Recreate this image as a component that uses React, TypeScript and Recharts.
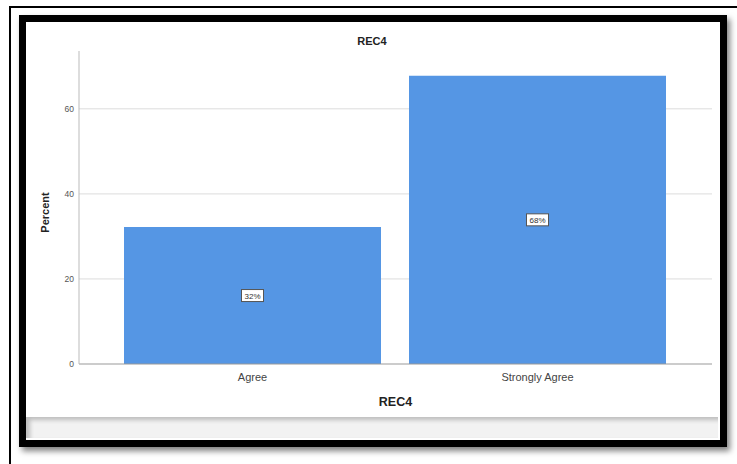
import React from "react";
import { BarChart, Bar, XAxis, YAxis, CartesianGrid, LabelList, Label } from "recharts";

const categories = ["Agree", "Strongly Agree"];
const percentValues = [32.2, 67.8];
const valueLabels = ["32%", "68%"];
const yTicks = [0, 20, 40, 60];
const chartTitle = "REC4";
const xTitle = "REC4";
const yTitle = "Percent";

const data = categories.map((c, i) => ({ name: c, value: percentValues[i], label: valueLabels[i] }));

const FONT = "'Liberation Sans', Arial, sans-serif";

const BoxLabel = (props: any) => {
  const { x, y, width, height, index } = props;
  const cx = x + width / 2;
  const cy = y + height / 2;
  const w = 22;
  const h = 12;
  return (
    <g>
      <rect x={cx - w / 2} y={cy - h / 2} width={w} height={h} fill="#ffffff" stroke="#555" strokeWidth={1} />
      <text x={cx} y={cy + 3} textAnchor="middle" fontSize={8} fill="#333" fontFamily={FONT}>
        {valueLabels[index]}
      </text>
    </g>
  );
};

export default function App() {
  return (
    <div style={{ position: "absolute", left: 0, top: 0, width: 737, height: 464, overflow: "hidden", background: "#fff", fontFamily: FONT }}>
      {/* thin outer border */}
      <div style={{ position: "absolute", left: 9, top: 6, width: 760, height: 480, borderTop: "2px solid #000", borderLeft: "2px solid #000" }} />
      {/* thick frame */}
      <div style={{ position: "absolute", left: 19, top: 15, width: 694, height: 418, border: "7px solid #000", boxShadow: "3px 4px 6px rgba(0,0,0,0.5)", background: "#fff" }} />
      {/* grey strip */}
      <div style={{ position: "absolute", left: 26, top: 417, width: 692, height: 21, background: "#f2f2f2", boxShadow: "inset 4px 3px 4px rgba(0,0,0,0.22)" }} />
      <div style={{ position: "absolute", left: 0, top: 0 }}>
        <BarChart width={737} height={464} data={data} margin={{ top: 51, right: 25, bottom: 0, left: 0 }} barCategoryGap={14}>
          <text x={372} y={45} textAnchor="middle" fontSize={11} fontWeight="bold" fill="#222" fontFamily={FONT}>{chartTitle}</text>
          <CartesianGrid vertical={false} stroke="#dcdcdc" horizontalValues={[20, 40, 60]} />
          <XAxis
            dataKey="name"
            padding={{ left: 31, right: 32 }}
            tickLine={false}
            tickSize={0}
            tickMargin={9}
            axisLine={{ stroke: "#999" }}
            tick={{ fontSize: 11, fill: "#444", fontFamily: FONT }}
            height={100}
          >
            <Label value={xTitle} position="insideTop" offset={33} style={{ fontSize: 12.5, fontWeight: "bold", fill: "#222", fontFamily: FONT }} />
          </XAxis>
          <YAxis
            domain={[0, 73.6]}
            ticks={yTicks}
            width={79}
            tickLine={false}
            tickSize={0}
            tickMargin={5}
            axisLine={{ stroke: "#bbb" }}
            tick={{ fontSize: 8.5, fill: "#555", fontFamily: FONT }}
            interval={0}
          >
            <Label value={yTitle} angle={-90} position="insideLeft" offset={45} dy={5} style={{ fontSize: 11, fontWeight: "bold", fill: "#222", fontFamily: FONT, textAnchor: "middle" }} />
          </YAxis>
          <Bar dataKey="value" fill="#5596e4" isAnimationActive={false}>
            <LabelList dataKey="label" content={BoxLabel} />
          </Bar>
        </BarChart>
      </div>
    </div>
  );
}
